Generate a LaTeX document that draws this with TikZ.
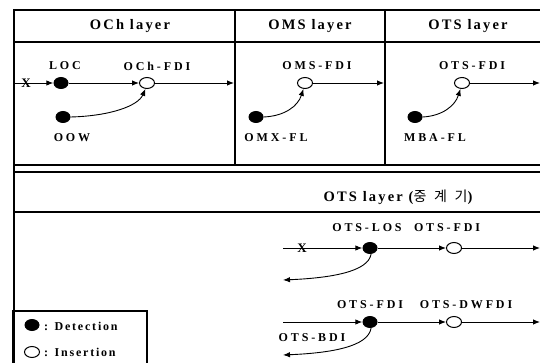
\documentclass[tikz,border=0pt]{standalone}
\usepackage{fontspec}
\setmainfont{Liberation Serif}
\newfontfamily\hdrfont[LetterSpace=15]{Liberation Serif}
\newfontfamily\lblfont[LetterSpace=24]{Liberation Serif}
\newfontfamily\korfont[LetterSpace=55]{Noto Sans CJK KR}
\usepackage{tikz}
\usetikzlibrary{shapes.geometric, arrows.meta, positioning}
\tikzset{
  frame/.style={line width=1.1pt, color=black},
  hdr/.style={font=\fontsize{14.5}{17}\selectfont\hdrfont\bfseries, inner sep=0pt},
  lbl/.style={font=\fontsize{12}{14}\selectfont\lblfont\bfseries, inner sep=0pt},
  legtext/.style={font=\fontsize{12}{14}\selectfont\hdrfont\bfseries, inner sep=0pt, anchor=west},
  detnode/.style={ellipse, fill=black, minimum width=15pt, minimum height=12pt, inner sep=0pt},
  insnode/.style={ellipse, draw=black, fill=white, line width=1pt,
    minimum width=15pt, minimum height=11pt, inner sep=0pt},
  xmark/.style={font=\fontsize{13}{15}\selectfont\bfseries, inner sep=0pt},
  arrow/.style={-{Latex[length=7pt,width=5.5pt]}, line width=0.9pt},
  line/.style={line width=0.9pt}
}
\begin{document}
\begin{tikzpicture}[x=1pt, y=-1pt]
  \useasboundingbox (0,0) rectangle (540,363);

  % Frame
  \draw[frame] (14,363) -- (14,10) -- (540,10);
  \draw[frame] (14,42) -- (540,42);
  \draw[frame] (235,10) -- (235,165);
  \draw[frame] (385,10) -- (385,165);
  \draw[frame] (14,165) -- (540,165);
  \draw[frame] (14,172) -- (540,172);
  \draw[frame] (14,212) -- (540,212);

  % Layer headers
  \node[hdr] (hoch) at (130,26) {OCh layer};
  \node[hdr] (homs) at (310,26) {OMS layer};
  \node[hdr] (hots) at (468,26) {OTS layer};
  \node[hdr] (hrep) at (398,197) {OTS layer ({\korfont\mdseries\fontsize{14}{16}\selectfont 중계기})};

  % OCh layer
  \coordinate (ochin) at (14,83);
  \coordinate (ochout) at (234,83);
  \node[detnode] (loc) at (61,83) {};
  \node[insnode] (ochfdi) at (147,83) {};
  \node[detnode] (oow) at (63,117) {};
  \node[lbl] (locl) at (65,66) {LOC};
  \node[lbl] (ochfdil) at (157,66) {OCh-FDI};
  \node[lbl] (oowl) at (72,138) {OOW};
  \draw[arrow] (ochin) -- (loc);
  \node[xmark] (x1) at (26,83.5) {X};
  \draw[arrow] (loc) -- (ochfdi);
  \draw[arrow] (ochfdi) -- (ochout);
  \draw[arrow] (oow.east) .. controls (110,116) and (138,106) .. (ochfdi.-105);

  % OMS layer
  \coordinate (omsout) at (384,83);
  \node[insnode] (omsfdi) at (305,83) {};
  \node[detnode] (omx) at (256,117) {};
  \node[lbl] (omsfdil) at (317,66) {OMS-FDI};
  \node[lbl] (omxl) at (276,138) {OMX-FL};
  \draw[arrow] (omsfdi) -- (omsout);
  \draw[arrow] (omx.east) .. controls (285,116) and (298,106) .. (omsfdi.-105);

  % OTS layer
  \coordinate (otsout) at (540,83);
  \node[insnode] (otsfdi) at (462,83) {};
  \node[detnode] (mba) at (415,117) {};
  \node[lbl] (otsfdil) at (472,66) {OTS-FDI};
  \node[lbl] (mbal) at (435,138) {MBA-FL};
  \draw[arrow] (otsfdi) -- (otsout);
  \draw[arrow] (mba.east) .. controls (442,116) and (455,106) .. (otsfdi.-105);

  % OTS layer (repeater), first row
  \coordinate (r1in) at (283,248);
  \coordinate (r1out) at (540,248);
  \coordinate (r1back) at (283,280);
  \node[detnode] (los) at (370,248) {};
  \node[insnode] (r1fdi) at (454,248) {};
  \node[lbl] (losl) at (367,228) {OTS-LOS};
  \node[lbl] (r1fdil) at (447,228) {OTS-FDI};
  \draw[arrow] (r1in) -- (los);
  \node[xmark] (x2) at (302,248.5) {X};
  \draw[arrow] (los) -- (r1fdi);
  \draw[arrow] (r1fdi) -- (r1out);
  \draw[arrow] (los.-80) .. controls (368,272) and (330,278) .. (r1back);

  % OTS layer (repeater), second row
  \coordinate (r2in) at (283,322);
  \coordinate (r2out) at (540,322);
  \coordinate (r2back) at (283,355);
  \node[detnode] (r2det) at (370,322) {};
  \node[insnode] (dwfdi) at (454,322) {};
  \node[lbl] (r2detl) at (370,305) {OTS-FDI};
  \node[lbl] (dwfdil) at (466,305) {OTS-DWFDI};
  \node[lbl] (bdil) at (312,338) {OTS-BDI};
  \draw[arrow] (r2in) -- (r2det);
  \draw[arrow] (r2det) -- (dwfdi);
  \draw[arrow] (dwfdi) -- (r2out);
  \draw[arrow] (r2det.-80) .. controls (368,347) and (330,353) .. (r2back);

  % Legend
  \draw[frame] (13,363) -- (13,311) -- (147,311) -- (147,363);
  \node[detnode] (legdet) at (32,325) {};
  \node[insnode] (legins) at (32,352) {};
  \node[legtext] (legdetl) at (44,326) {: Detection};
  \node[legtext] (leginsl) at (44,352) {: Insertion};
\end{tikzpicture}
\end{document}
